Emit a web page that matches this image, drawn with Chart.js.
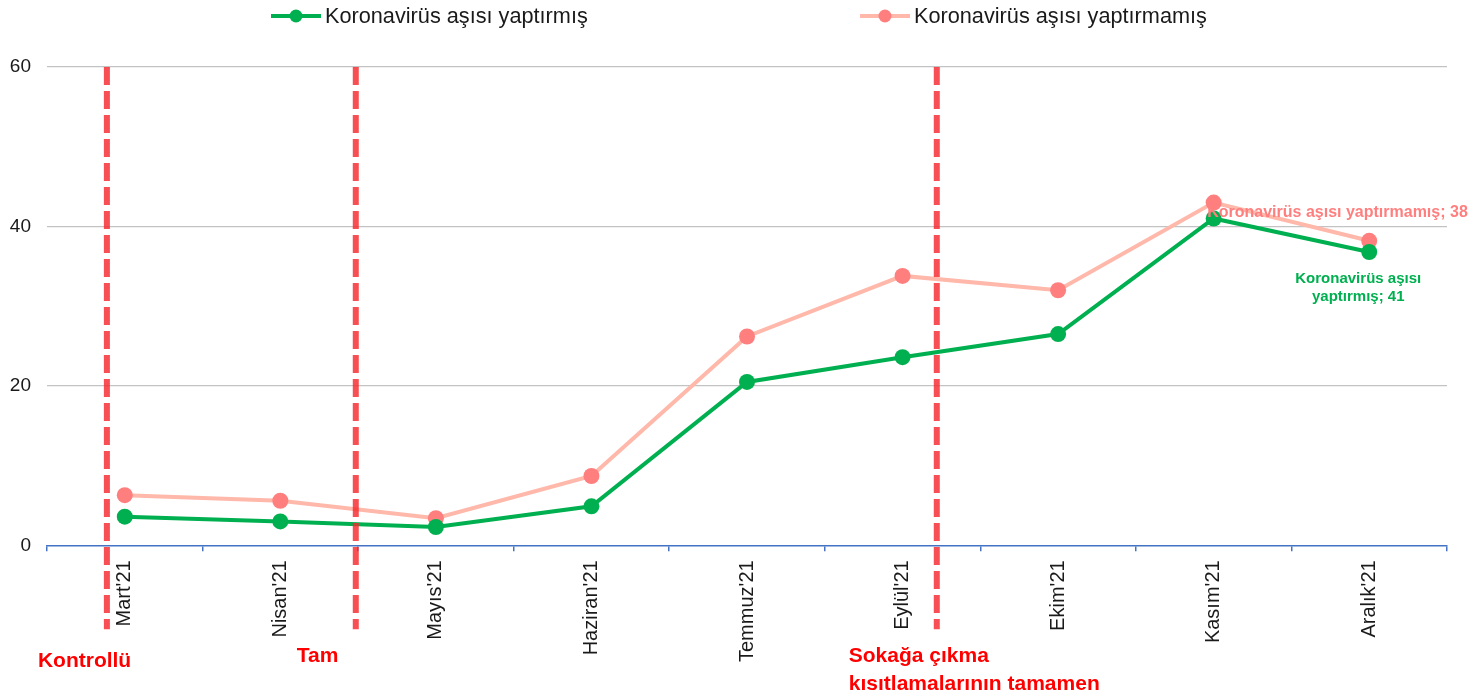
<!DOCTYPE html>
<html>
<head>
<meta charset="utf-8">
<script src="https://cdn.jsdelivr.net/npm/chart.js@4/dist/chart.umd.min.js"></script>
<style>
  html, body { margin: 0; padding: 0; background: #fff; }
  #wrap { width: 1470px; height: 697px; position: relative; }
</style>
</head>
<body>
<div id="wrap"><canvas id="chart"></canvas></div>
<script>
// Data
const months = ["Mart'21", "Nisan'21", "Mayıs'21", "Haziran'21", "Temmuz'21", "Eylül'21", "Ekim'21", "Kasım'21", "Aralık'21"];
const vaccinated = [3.6, 3.0, 2.3, 4.9, 20.5, 23.6, 26.5, 41.0, 36.8];
const unvaccinated = [6.3, 5.6, 3.4, 8.7, 26.2, 33.8, 32.0, 43.0, 38.2];
const seriesNames = ['Koronavirüs aşısı yaptırmış', 'Koronavirüs aşısı yaptırmamış'];
const yTicks = [0, 20, 40, 60];

// Event markers (position in category units) and their captions
const eventPos = [-0.115, 1.485, 5.22];
const eventText = [['Kontrollü'], ['Tam'], ['Sokağa çıkma', 'kısıtlamalarının tamamen']];

const GREEN = '#00b050';
const PINK_LINE = '#ffb8aa';
const PINK_DOT = '#ff7f7f';
const FONT = "'Liberation Sans', Arial, sans-serif";

// legend drawn by hand so the wide spacing matches
const legendPlugin = {
    id: 'legendLine',
    afterDraw(chart) {
        const ctx = chart.ctx;
        const items = [
            { x: 271, line: GREEN, dot: GREEN, text: seriesNames[0] },
            { x: 860, line: PINK_LINE, dot: PINK_DOT, text: seriesNames[1] }
        ];
        const y = 16;
        ctx.save();
        items.forEach(it => {
            ctx.strokeStyle = it.line;
            ctx.lineWidth = 4;
            ctx.beginPath();
            ctx.moveTo(it.x, y);
            ctx.lineTo(it.x + 50, y);
            ctx.stroke();
            ctx.fillStyle = it.dot;
            ctx.beginPath();
            ctx.arc(it.x + 25, y, 6.5, 0, Math.PI * 2);
            ctx.fill();
            ctx.fillStyle = '#1a1a1a';
            ctx.font = '21.7px ' + FONT;
            ctx.textBaseline = 'middle';
            ctx.textAlign = 'left';
            ctx.fillText(it.text, it.x + 54, y + 1);
        });
        ctx.restore();
    }
};

// dashed red event lines + red captions + end labels
const eventPlugin = {
    id: 'events',
    afterDatasetsDraw(chart) {
        const ctx = chart.ctx;
        const xs = chart.scales.x;
        const area = chart.chartArea;
        ctx.save();
        ctx.strokeStyle = 'rgba(245,40,45,0.82)';
        ctx.lineWidth = 6;
        ctx.setLineDash([18, 6]);
        eventPos.forEach(p => {
            const x = xs.getPixelForValue(p);
            ctx.beginPath();
            ctx.moveTo(x, area.top);
            ctx.lineTo(x, area.bottom + 84);
            ctx.stroke();
        });
        ctx.restore();

        // end-of-line labels
        const pinkMeta = chart.getDatasetMeta(1).data;
        const greenMeta = chart.getDatasetMeta(0).data;
        const pLast = pinkMeta[pinkMeta.length - 1];
        const gLast = greenMeta[greenMeta.length - 1];
        ctx.save();
        ctx.textBaseline = 'middle';
        ctx.font = 'bold 16px ' + FONT;
        ctx.fillStyle = PINK_DOT;
        ctx.textAlign = 'left';
        ctx.fillText(seriesNames[1] + '; 38', pLast.x - 162, pLast.y - 28);
        ctx.font = 'bold 15px ' + FONT;
        ctx.fillStyle = GREEN;
        ctx.textAlign = 'center';
        ctx.fillText('Koronavirüs aşısı', gLast.x - 11, gLast.y + 27);
        ctx.fillText('yaptırmış; 41', gLast.x - 11, gLast.y + 45);
        ctx.restore();
    },
    afterDraw(chart) {
        const ctx = chart.ctx;
        const xs = chart.scales.x;
        ctx.save();
        ctx.font = 'bold 21px ' + FONT;
        ctx.fillStyle = '#ff0000';
        ctx.textAlign = 'left';
        ctx.textBaseline = 'alphabetic';
        const offs = [-69, -59, -88];
        const base = [667, 662, 662];
        eventPos.forEach((p, i) => {
            const x = xs.getPixelForValue(p) + offs[i];
            eventText[i].forEach((t, j) => ctx.fillText(t, x, base[i] + j * 28));
        });
        ctx.restore();
    }
};

new Chart(document.getElementById('chart'), {
    type: 'line',
    data: {
        labels: months,
        datasets: [
            { label: seriesNames[0], data: vaccinated, borderColor: GREEN, backgroundColor: GREEN,
              borderWidth: 4, pointRadius: 8, pointBackgroundColor: GREEN, pointBorderWidth: 0, tension: 0 },
            { label: seriesNames[1], data: unvaccinated, borderColor: PINK_LINE, backgroundColor: PINK_DOT,
              borderWidth: 4, pointRadius: 8, pointBackgroundColor: PINK_DOT, pointBorderWidth: 0, tension: 0 }
        ]
    },
    options: {
        responsive: true,
        maintainAspectRatio: false,
        animation: false,
        layout: { padding: { top: 67, left: 6, right: 23, bottom: 26 } },
        plugins: { legend: { display: false }, tooltip: { enabled: false } },
        scales: {
            x: {
                offset: true,
                grid: { display: true, drawOnChartArea: false, drawTicks: true, tickLength: 6, color: '#4472c4', offset: true, lineWidth: 1.5 },
                border: { display: true, color: '#4472c4', width: 1.5 },
                ticks: { color: '#1a1a1a', font: { family: FONT, size: 20 }, minRotation: 90, maxRotation: 90, padding: 9, autoSkip: false }
            },
            y: {
                min: 0, max: 60,
                afterBuildTicks(s) { s.ticks = yTicks.map(v => ({ value: v })); },
                afterFit(s) { s.width = 41; },
                grid: { drawTicks: false, color: c => c.tick.value === 0 ? 'rgba(0,0,0,0)' : '#c3c3c3', lineWidth: 1.3 },
                border: { display: false },
                ticks: { color: '#1a1a1a', font: { family: FONT, size: 19 }, padding: 16 }
            }
        }
    },
    plugins: [legendPlugin, eventPlugin]
});
</script>
</body>
</html>
